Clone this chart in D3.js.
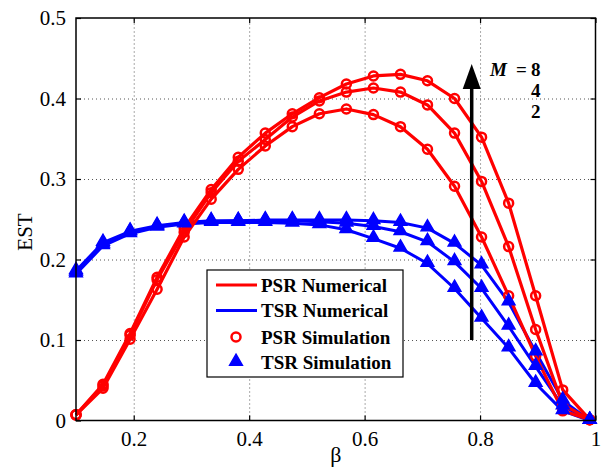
<!DOCTYPE html>
<html><head><meta charset="utf-8">
<script src="https://cdn.jsdelivr.net/npm/d3@7/dist/d3.min.js"></script>
<style>body{margin:0;background:#fff;} svg{display:block;}</style>
</head><body><svg id="c" width="615" height="474"></svg>
<script>
// ---- data ----
const beta = [0.1, 0.1468, 0.1937, 0.2405, 0.2874, 0.3342, 0.3811, 0.4279, 0.4747, 0.5216,
              0.5684, 0.6153, 0.6621, 0.7089, 0.7558, 0.8026, 0.8495, 0.8963, 0.9432, 0.99];
const psrM8 = [0.007, 0.045, 0.108, 0.178, 0.239, 0.287, 0.327, 0.357, 0.381, 0.401,
               0.418, 0.428, 0.430, 0.422, 0.400, 0.352, 0.270, 0.155, 0.038, 0.001];
const psrM4 = [0.007, 0.043, 0.106, 0.175, 0.234, 0.283, 0.322, 0.349, 0.377, 0.397,
               0.408, 0.413, 0.408, 0.392, 0.357, 0.297, 0.216, 0.113, 0.020, 0.001];
const psrM2 = [0.007, 0.040, 0.101, 0.163, 0.228, 0.275, 0.312, 0.341, 0.365, 0.381,
               0.387, 0.380, 0.365, 0.337, 0.291, 0.228, 0.155, 0.080, 0.012, 0.001];
const tsrM8 = [0.186, 0.221, 0.235, 0.242, 0.246, 0.248, 0.248, 0.249, 0.249, 0.249,
               0.249, 0.248, 0.246, 0.239, 0.220, 0.193, 0.147, 0.085, 0.025, 0.0];
const tsrM4 = [0.184, 0.219, 0.234, 0.241, 0.245, 0.247, 0.248, 0.248, 0.248, 0.247,
               0.245, 0.241, 0.2345, 0.222, 0.197, 0.164, 0.117, 0.067, 0.018, 0.0];
const tsrM2 = [0.182, 0.217, 0.232, 0.240, 0.244, 0.246, 0.246, 0.246, 0.245, 0.243,
               0.237, 0.226, 0.214, 0.195, 0.164, 0.127, 0.090, 0.046, 0.012, 0.0];
const xTicks = [0.2, 0.4, 0.6, 0.8, 1];
const xTickLabels = ["0.2", "0.4", "0.6", "0.8", "1"];
const yTicks = [0, 0.1, 0.2, 0.3, 0.4, 0.5];
const yTickLabels = ["0", "0.1", "0.2", "0.3", "0.4", "0.5"];
const legendLabels = ["PSR Numerical", "TSR Numerical", "PSR Simulation", "TSR Simulation"];
const mLabels = ["8", "4", "2"];

// ---- layout ----
const W = 615, H = 474;
const m = {left: 76, right: 19.5, top: 18, bottom: 53.5};
const iw = W - m.left - m.right, ih = H - m.top - m.bottom;
const FONT = "Liberation Serif, Times New Roman, serif";
const RED = "#ff0000", BLUE = "#0000ff";

const svg = d3.select("#c");
const g = svg.append("g").attr("transform", `translate(${m.left},${m.top})`);
const x = d3.scaleLinear().domain([0.1, 1]).range([0, iw]);
const y = d3.scaleLinear().domain([0, 0.5]).range([ih, 0]);

// grid
const gridX = g.append("g").attr("transform", `translate(0,${ih})`)
  .call(d3.axisBottom(x).tickValues(xTicks.filter(v => v < 1)).tickSize(-ih).tickFormat(""));
const gridY = g.append("g")
  .call(d3.axisLeft(y).tickValues(yTicks.filter(v => v > 0 && v < 0.5)).tickSize(-iw).tickFormat(""));
[gridX, gridY].forEach(a => {
  a.select(".domain").remove();
  a.selectAll("line").attr("stroke", "#555").attr("stroke-width", 1).attr("stroke-dasharray", "1,3");
});

// axes
const ax = g.append("g").attr("transform", `translate(0,${ih})`)
  .call(d3.axisBottom(x).tickValues(xTicks).tickSize(-5).tickPadding(11)
    .tickFormat((d, i) => xTickLabels[i]));
const ay = g.append("g")
  .call(d3.axisLeft(y).tickValues(yTicks).tickSize(-5).tickPadding(10)
    .tickFormat((d, i) => yTickLabels[i]));
const axT = g.append("g")
  .call(d3.axisTop(x).tickValues(xTicks).tickSize(-5).tickFormat(""));
const ayR = g.append("g").attr("transform", `translate(${iw},0)`)
  .call(d3.axisRight(y).tickValues(yTicks).tickSize(-5).tickFormat(""));
[ax, ay, axT, ayR].forEach(a => {
  a.attr("font-family", null);
  a.select(".domain").remove();
  a.selectAll("line").attr("stroke", "#000").attr("stroke-width", 1.2);
  a.selectAll("text").style("font-family", FONT).style("font-size", "21px").attr("fill", "#000");
});

// series
const psr = [psrM8, psrM4, psrM2];
const tsr = [tsrM8, tsrM4, tsrM2];
const line = d3.line().x((d, i) => x(beta[i])).y(d => y(d));
const tri = d3.symbol().type(d3.symbolTriangle).size(70);

tsr.forEach(s => g.append("path").datum(s).attr("d", line)
  .attr("fill", "none").attr("stroke", BLUE).attr("stroke-width", 3).attr("stroke-linejoin", "round"));
psr.forEach(s => g.append("path").datum(s).attr("d", line)
  .attr("fill", "none").attr("stroke", RED).attr("stroke-width", 3.2).attr("stroke-linejoin", "round"));
psr.forEach(s => g.append("g").selectAll("circle").data(s).join("circle")
  .attr("cx", (d, i) => x(beta[i])).attr("cy", d => y(d)).attr("r", 4.5)
  .attr("fill", "none").attr("stroke", RED).attr("stroke-width", 2.5));
tsr.forEach(s => g.append("g").selectAll("path").data(s).join("path")
  .attr("d", tri).attr("transform", (d, i) => `translate(${x(beta[i])},${y(d) - 1})`)
  .attr("fill", BLUE).attr("stroke", BLUE).attr("stroke-width", 1.5));

// box
g.append("rect").attr("width", iw).attr("height", ih)
  .attr("fill", "none").attr("stroke", "#000").attr("stroke-width", 1.5);

// axis titles
svg.append("text").attr("x", m.left + iw / 2).attr("y", 462).attr("text-anchor", "middle")
  .style("font-family", FONT).style("font-size", "22px").text("β");
svg.append("text").attr("transform", "translate(32,232) rotate(-90)").attr("text-anchor", "middle")
  .style("font-family", FONT).style("font-size", "21px").text("EST");

// arrow
const ax0 = 471.7;
svg.append("line").attr("x1", ax0).attr("x2", ax0).attr("y1", 340).attr("y2", 85)
  .attr("stroke", "#000").attr("stroke-width", 3.5);
svg.append("path").attr("d", `M${ax0},64 L${ax0 - 9},89 L${ax0 + 9},89 Z`).attr("fill", "#000");
const bold = sel => sel.style("font-family", FONT).style("font-size", "19px").style("font-weight", "bold");
bold(svg.append("text").attr("x", 490).attr("y", 76).style("font-style", "italic").text("M"));
bold(svg.append("text").attr("x", 516).attr("y", 76).text("="));
mLabels.forEach((lab, k) => bold(svg.append("text").attr("x", 531).attr("y", 76 + k * 21).text(lab)));

// legend
const lg = svg.append("g");
lg.append("rect").attr("x", 207).attr("y", 270).attr("width", 196).attr("height", 107)
  .attr("fill", "#fff").attr("stroke", "#000").attr("stroke-width", 1.2);
const rowY = [285, 310.5, 337, 362.5];
legendLabels.forEach((lab, k) => {
  const yy = rowY[k];
  if (k < 2) {
    lg.append("line").attr("x1", 216).attr("x2", 257).attr("y1", yy).attr("y2", yy)
      .attr("stroke", k === 0 ? RED : BLUE).attr("stroke-width", 3);
  } else if (k === 2) {
    lg.append("circle").attr("cx", 236).attr("cy", yy).attr("r", 4.5)
      .attr("fill", "none").attr("stroke", RED).attr("stroke-width", 2.5);
  } else {
    lg.append("path").attr("d", tri).attr("transform", `translate(236,${yy - 1})`)
      .attr("fill", BLUE).attr("stroke", BLUE).attr("stroke-width", 1.5);
  }
  bold(lg.append("text").attr("x", 261).attr("y", yy + 6.5).text(lab));
});
</script></body></html>
